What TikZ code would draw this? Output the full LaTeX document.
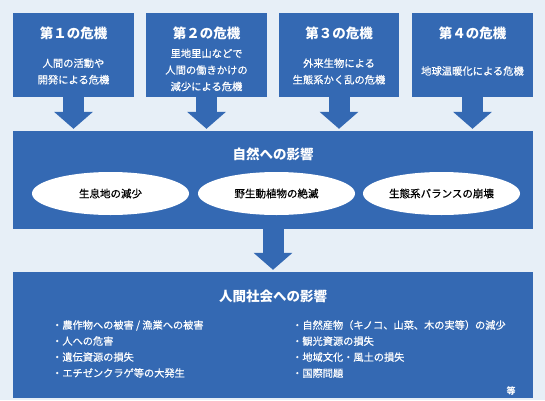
\documentclass[tikz,border=0pt]{standalone}
\usepackage{fontspec}
\setmainfont{Noto Sans CJK JP}[UprightFeatures={FakeBold=0.5}]
\usetikzlibrary{arrows.meta,shapes.geometric}
\definecolor{crisisblue}{RGB}{52,105,179}
\definecolor{paleblue}{RGB}{231,239,247}

\begin{document}
\begin{tikzpicture}[x=1bp,y=1bp,
  panel/.style={fill=crisisblue,inner sep=0pt},
  crisis/.style={panel,minimum width=121bp,minimum height=84bp},
  heading/.style={text=white,font=\fontsize{13.5bp}{16bp}\selectfont\bfseries},
  body/.style={text=white,align=center,font=\fontsize{10.3bp}{16.5bp}\selectfont},
  effect/.style={ellipse,fill=white,minimum width=157bp,minimum height=43bp,inner sep=0pt,
    font=\fontsize{10.5bp}{12bp}\selectfont},
  itemlist/.style={text=white,align=left,anchor=west,inner sep=0pt,
    font=\fontsize{10.2bp}{16bp}\selectfont},
  bigarrow/.style={crisisblue,line width=21bp,shorten >=2bp,
    -{Triangle[width=38bp,length=17bp]}}]
  % background fixes the page size
  \fill[paleblue] (0,0) rectangle (545,400);

  % four crises
  \node[crisis] (c1) at (73.5,345) {};
  \node[crisis] (c2) at (206.5,345) {};
  \node[crisis,minimum width=120bp] (c3) at (339,345) {};
  \node[crisis] (c4) at (472.5,345) {};
  \node[heading] (h1) at (73.5,367) {第１の危機};
  \node[heading] (h2) at (206.5,367) {第２の危機};
  \node[heading] (h3) at (339,367) {第３の危機};
  \node[heading] (h4) at (472.5,367) {第４の危機};
  \node[body] (b1) at (73.5,328.5) {人間の活動や\\開発による危機};
  \node[body] (b2) at (206.5,330) {里地里山などで\\人間の働きかけの\\減少による危機};
  \node[body] (b3) at (339,328.5) {外来生物による\\生態系かく乱の危機};
  \node[body] (b4) at (472.5,329) {地球温暖化による危機};

  % effects on nature
  \node[panel,minimum width=520bp,minimum height=98bp] (nature) at (273,220) {};
  \node[heading] (nh) at (273,246) {自然への影響};
  \node[effect] (e1) at (110.5,206.5) {生息地の減少};
  \node[effect] (e2) at (276.5,206.5) {野生動植物の絶滅};
  \node[effect] (e3) at (441.5,206.5) {生態系バランスの崩壊};

  % effects on society
  \node[panel,minimum width=520bp,minimum height=126bp] (society) at (273,65) {};
  \node[heading] (sh) at (273,103.5) {人間社会への影響};
  \node[itemlist] (left) at (52,51)
    {・農作物への被害 / 漁業への被害\\・人への危害\\・遺伝資源の損失\\・エチゼンクラゲ等の大発生};
  \node[itemlist] (right) at (292,51)
    {・自然産物（キノコ、山菜、木の実等）の減少\\・観光資源の損失\\・地域文化・風土の損失\\・国際問題};
  \node[text=white,font=\fontsize{9bp}{10bp}\selectfont\bfseries] (etc) at (511,9) {等};

  % block arrows
  \foreach \c in {c1,c2,c3,c4}
    \draw[bigarrow] (\c.south) -- (\c.south |- nature.north);
  \draw[bigarrow] (nature.south) -- (society.north);
\end{tikzpicture}
\end{document}
